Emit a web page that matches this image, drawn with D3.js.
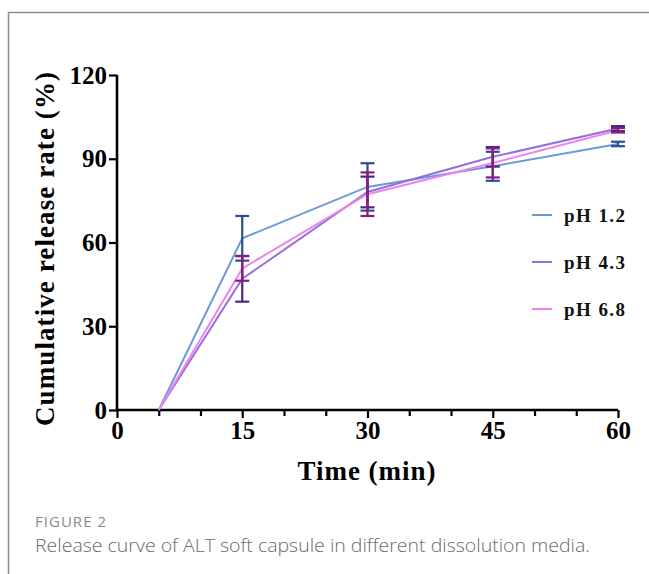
<!DOCTYPE html>
<html><head><meta charset="utf-8">
<script src="https://cdn.jsdelivr.net/npm/d3@7"></script>
<style>body{margin:0;background:#fff}svg{display:block}</style>
</head><body>
<svg id="c" width="649" height="574"></svg>
<script>
const times = [5, 15, 30, 45, 60];
const seriesNames = ["pH 1.2", "pH 4.3", "pH 6.8"];
const ph12Mean = [0, 61.5, 79.9, 87.3, 95.3];
const ph12Sd   = [0, 8.0, 8.5, 5.2, 0.8];
const ph43Mean = [0, 47.0, 78.1, 90.7, 100.8];
const ph43Sd   = [0, 8.2, 5.5, 3.5, 0.9];
const ph68Mean = [0, 50.7, 77.3, 88.5, 100.2];
const ph68Sd   = [0, 4.4, 7.8, 5.2, 0.8];
const xTicks = [0, 15, 30, 45, 60];
const xMinorTicks = [5, 10, 20, 25, 35, 40, 50, 55];
const yTicks = [0, 30, 60, 90, 120];
const lineColors = ["#6a9bd8", "#9370db", "#ee82ee"];
const barColors = ["#2c4e8e", "#4a2787", "#8a1c80"];

const series = [
  {name: seriesNames[0], mean: ph12Mean, sd: ph12Sd, line: lineColors[0], bar: barColors[0]},
  {name: seriesNames[1], mean: ph43Mean, sd: ph43Sd, line: lineColors[1], bar: barColors[1]},
  {name: seriesNames[2], mean: ph68Mean, sd: ph68Sd, line: lineColors[2], bar: barColors[2]}
];

const svg = d3.select("#c");
svg.append("path").attr("d","M649,12.5 H8.5 V574").attr("fill","none").attr("stroke","#8c8c8c").attr("stroke-width",1.5);

const x = d3.scaleLinear().domain([0,60]).range([117,618]);
const y = d3.scaleLinear().domain([0,120]).range([410,75]);
const serif = "'Liberation Serif','Times New Roman',serif";

const gx = svg.append("g").attr("transform","translate(0,410)")
  .call(d3.axisBottom(x).tickValues(xTicks).tickSize(8).tickPadding(3).tickFormat(d3.format("d")));
svg.append("g").attr("transform","translate(0,410)")
  .call(d3.axisBottom(x).tickValues(xMinorTicks).tickSize(6).tickFormat(""))
  .call(g=>g.select(".domain").remove())
  .selectAll("line").attr("stroke","#000").attr("stroke-width",2.2);
const gy = svg.append("g").attr("transform","translate(117,0)")
  .call(d3.axisLeft(y).tickValues(yTicks).tickSize(8).tickPadding(2).tickFormat(d3.format("d")));
[gx, gy].forEach(g=>{
  g.select(".domain").attr("stroke","#000").attr("stroke-width",2.6);
  g.selectAll(".tick line").attr("stroke","#000").attr("stroke-width",2.2);
  g.selectAll(".tick text").attr("fill","#000").style("font-family",serif).style("font-weight","bold").style("font-size","25px");
});
gy.select(".domain").attr("d","M-0,75V410");
gx.select(".domain").attr("d","M117,0H618");

svg.append("text").attr("x",367).attr("y",480).attr("text-anchor","middle")
  .style("font-family",serif).style("font-weight","bold").style("font-size","27px").style("letter-spacing","1px")
  .text("Time (min)");
svg.append("text").attr("transform","translate(54,249) rotate(-90)").attr("text-anchor","middle")
  .style("font-family",serif).style("font-weight","bold").style("font-size","27px")
  .attr("textLength",354).attr("lengthAdjust","spacing")
  .text("Cumulative release rate (%)");

const line = d3.line().x((d,i)=>x(times[i])).y(d=>y(d));
series.forEach(s=>{
  svg.append("path").attr("d",line(s.mean)).attr("fill","none").attr("stroke",s.line).attr("stroke-width",2);
});
series.forEach(s=>{
  const g = svg.append("g").attr("stroke",s.bar).attr("stroke-width",2.2).attr("fill","none");
  s.mean.forEach((m,i)=>{
    const sd = s.sd[i]; if(!sd) return;
    const cx = x(times[i]), y1 = y(m+sd), y2 = y(m-sd);
    g.append("line").attr("x1",cx).attr("x2",cx).attr("y1",y1).attr("y2",y2);
    g.append("line").attr("x1",cx-7).attr("x2",cx+7).attr("y1",y1).attr("y2",y1);
    g.append("line").attr("x1",cx-7).attr("x2",cx+7).attr("y1",y2).attr("y2",y2);
  });
});

const lg = svg.append("g");
series.forEach((s,i)=>{
  const ly = 215 + i*47;
  lg.append("line").attr("x1",532).attr("x2",552).attr("y1",ly).attr("y2",ly).attr("stroke",s.line).attr("stroke-width",2);
  lg.append("text").attr("x",564).attr("y",ly+7).style("font-family",serif).style("font-weight","bold")
    .style("font-size","19px").attr("textLength",61).attr("lengthAdjust","spacing").attr("fill","#111").text(s.name);
});

svg.append("text").attr("x",35).attr("y",527).attr("fill","#8a8a8a")
  .style("font-family","'Open Sans',sans-serif").style("font-size","15px")
  .attr("textLength",71).attr("lengthAdjust","spacing").text("FIGURE 2");
svg.append("text").attr("x",35).attr("y",552).attr("fill","#6a6a6a")
  .style("font-family","'Open Sans',sans-serif").style("font-size","18.5px").style("font-weight","300")
  .attr("textLength",555).attr("lengthAdjust","spacingAndGlyphs")
  .text("Release curve of ALT soft capsule in different dissolution media.");
</script>
</body></html>
